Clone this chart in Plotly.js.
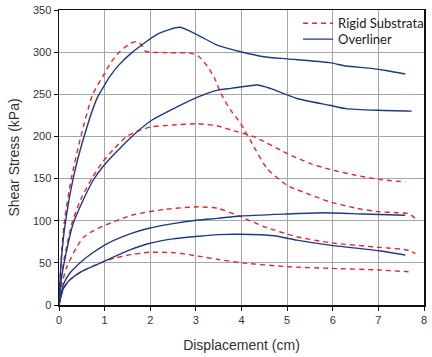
<!DOCTYPE html>
<html>
<head>
<meta charset="utf-8">
<script src="https://cdn.plot.ly/plotly-3.0.1.min.js"></script>
<style>html,body{margin:0;padding:0;background:#fff;}#chart{width:432px;height:357px;}</style>
</head>
<body>
<div id="chart"></div>
<script>
// Rigid Substrata (red dashed) curves
const rigid1X = [0, 0.04, 0.12, 0.27, 0.48, 0.74, 0.99, 1.14, 1.32, 1.55, 1.7, 1.8, 1.9, 2.33, 2.9, 3.05, 3.26, 3.41, 3.55, 3.75, 3.98, 4.3, 4.56, 5.0, 5.5, 5.93, 6.5, 7.01, 7.4, 7.66, 7.8];
const rigid1Y = [0, 50, 100, 150, 200, 250, 274, 288, 300, 310, 312.5, 309, 301, 299.4, 298.6, 295.4, 282.7, 269, 251, 232, 215.6, 185, 162, 142, 131, 122.5, 115, 110.7, 109.5, 108.5, 103];
const rigid2X = [0, 0.05, 0.15, 0.3, 0.5, 0.74, 0.96, 1.2, 1.46, 1.7, 2.04, 2.5, 3.05, 3.48, 3.77, 4.27, 4.99, 5.5, 5.93, 6.5, 7.01, 7.59];
const rigid2Y = [0, 35, 65, 100, 128, 152, 170, 185, 199, 206, 211.5, 213.5, 215, 212.4, 207.6, 199.7, 180, 168, 161, 154, 149, 146];
const rigid3X = [0, 0.05, 0.17, 0.38, 0.53, 0.75, 1.03, 1.61, 2.33, 3.05, 3.48, 3.98, 4.49, 5.21, 5.93, 7.01, 7.66, 7.81];
const rigid3Y = [0, 22, 45, 68, 80, 88, 95, 106.8, 113.5, 116.5, 114.7, 104.8, 93, 81, 74, 68.4, 65, 61];
const rigid4X = [0, 0.1, 0.24, 0.5, 0.75, 1.0, 1.25, 1.5, 1.97, 2.54, 3.05, 3.48, 3.98, 4.99, 5.93, 7.01, 7.66];
const rigid4Y = [0, 20, 30, 40, 46, 52, 56, 59, 62.5, 62, 58, 54.2, 50.2, 45.5, 43.5, 41.5, 39.5];

// Overliner (blue solid) curves
const over1X = [0, 0.04, 0.12, 0.31, 0.55, 0.84, 1.0, 1.1, 1.3, 1.61, 2.18, 2.65, 3.05, 3.48, 3.98, 4.49, 5.0, 5.93, 6.29, 6.8, 7.2, 7.59];
const over1Y = [0, 45, 90, 150, 200, 246, 261, 270, 284, 300, 322, 329.5, 320, 308, 300.5, 294.6, 292, 287.5, 283.5, 281, 278, 274];
const over2X = [0, 0.05, 0.15, 0.3, 0.53, 0.75, 0.96, 1.5, 2.04, 2.62, 3.05, 3.48, 3.77, 4.35, 4.63, 5.21, 5.93, 6.29, 7.01, 7.73];
const over2Y = [0, 30, 60, 95, 124.6, 148, 164, 195, 219.5, 236, 247, 255, 257, 261, 257, 245, 237, 233, 231, 230];
const over3X = [0, 0.1, 0.24, 0.5, 0.74, 1.03, 1.54, 1.97, 2.5, 3.05, 3.48, 3.98, 4.99, 5.79, 6.65, 7.59];
const over3Y = [0, 25, 38, 52, 62, 72, 84, 91, 96.5, 100.8, 102.8, 105.6, 108, 109.5, 108, 106.4];
const over4X = [0, 0.1, 0.24, 0.5, 1.0, 1.54, 1.97, 2.5, 3.05, 3.48, 3.98, 4.71, 5.21, 5.93, 7.01, 7.59];
const over4Y = [0, 20, 30, 40, 52, 65, 73, 78.5, 81.5, 83.5, 83.9, 82.2, 77, 71, 64.4, 59.3];

const tickVals = [0, 1, 2, 3, 4, 5, 6, 7, 8];
const yTickVals = [0, 50, 100, 150, 200, 250, 300, 350];

const red = '#e3262d';
const blue = '#1f3a80';

function rigid(x, y, show) {
  return {x: x, y: y, type: 'scatter', mode: 'lines', name: 'Rigid Substrata',
    legend: 'legend', legendgroup: 'r', showlegend: show,
    line: {color: red, width: 1.4, dash: '5px,4px', shape: 'spline', smoothing: 0.6}};
}
function over(x, y, show) {
  return {x: x, y: y, type: 'scatter', mode: 'lines', name: 'Overliner',
    legend: 'legend2', legendgroup: 'o', showlegend: show,
    line: {color: blue, width: 1.4, shape: 'spline', smoothing: 0.6}};
}

const data = [
  rigid(rigid1X, rigid1Y, true),
  rigid(rigid2X, rigid2Y, false),
  rigid(rigid3X, rigid3Y, false),
  rigid(rigid4X, rigid4Y, false),
  over(over1X, over1Y, true),
  over(over2X, over2Y, false),
  over(over3X, over3Y, false),
  over(over4X, over4Y, false)
];

const axisFont = {family: 'Liberation Sans, Arial, sans-serif', size: 11, color: '#333'};
const legendFont = {family: 'Lato, Carlito, sans-serif', size: 13, color: '#222'};
const layout = {
  width: 432, height: 357,
  margin: {l: 59, r: 3, t: 10, b: 52},
  paper_bgcolor: '#fff', plot_bgcolor: '#fff',
  showlegend: true,
  legend: {x: 0.655, y: 1.006, xanchor: 'left', yanchor: 'top', bgcolor: 'rgba(0,0,0,0)',
    font: legendFont, tracegroupgap: 0, itemwidth: 30},
  legend2: {x: 0.655, y: 0.952, xanchor: 'left', yanchor: 'top', bgcolor: 'rgba(0,0,0,0)',
    font: legendFont, tracegroupgap: 0, itemwidth: 30},
  xaxis: {range: [0, 8], tickvals: tickVals, ticktext: tickVals.map(String),
    showgrid: true, gridcolor: '#a6a6a6', gridwidth: 1,
    showline: true, linecolor: '#111', linewidth: 1.5, mirror: true,
    ticks: 'outside', ticklen: 4, tickcolor: '#111', tickfont: axisFont, zeroline: false,
    title: {text: 'Displacement (cm)', font: {family: 'Liberation Sans, Arial, sans-serif', size: 14, color: '#333'}, standoff: 15}},
  yaxis: {range: [0, 350], tickvals: yTickVals, ticktext: yTickVals.map(String),
    showgrid: true, gridcolor: '#a6a6a6', gridwidth: 1,
    showline: true, linecolor: '#111', linewidth: 1.5, mirror: true,
    ticks: 'outside', ticklen: 4, tickcolor: '#111', tickfont: axisFont, zeroline: false,
    title: {text: 'Shear Stress (kPa)', font: {family: 'Liberation Sans, Arial, sans-serif', size: 14, color: '#333'}, standoff: 10}}
};

Plotly.newPlot('chart', data, layout, {staticPlot: true, displayModeBar: false});
</script>
</body>
</html>
